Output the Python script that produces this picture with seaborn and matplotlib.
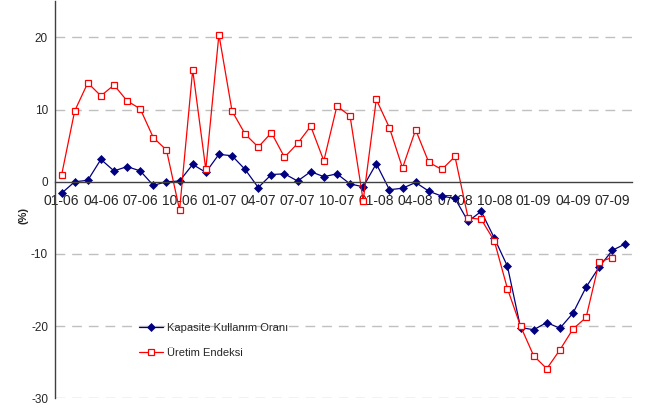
import numpy as np
import pandas as pd
import matplotlib
matplotlib.use('Agg')
import matplotlib.pyplot as plt
import seaborn as sns

# monthly series, Jan 2006 onwards (yoy change, %)
kapasite = [-1.6, 0.0, 0.2, 3.1, 1.5, 2.1, 1.5, -0.5, 0.0, 0.1, 2.4, 1.3, 3.8, 3.6, 1.7,
            -0.8, 1.0, 1.1, 0.1, 1.4, 0.7, 1.1, -0.3, -0.7, 2.5, -1.1, -0.9, -0.1, -1.3, -2.0,
            -2.3, -5.5, -4.1, -7.8, -11.7, -20.2, -20.5, -19.5, -20.3, -18.2, -14.6, -11.8, -9.5, -8.6]
uretim = [0.9, 9.8, 13.7, 11.9, 13.4, 11.2, 10.1, 6.1, 4.4, -3.9, 15.5, 1.7, 20.4, 9.8, 6.6,
          4.8, 6.8, 3.4, 5.3, 7.7, 2.9, 10.5, 9.1, -2.6, 11.4, 7.5, 1.9, 7.2, 2.7, 1.7,
          3.5, -5.0, -5.2, -8.2, -14.8, -20.0, -24.1, -25.9, -23.3, -20.4, -18.8, -11.1, -10.5]
tick_labels = ["01-06", "04-06", "07-06", "10-06", "01-07", "04-07", "07-07", "10-07",
               "01-08", "04-08", "07-08", "10-08", "01-09", "04-09", "07-09"]
y_ticks = [-30, -20, -10, 0, 10, 20]

df_k = pd.DataFrame({'t': np.arange(len(kapasite)), 'val': kapasite})
df_u = pd.DataFrame({'t': np.arange(len(uretim)), 'val': uretim})

sns.set_style('white')
plt.rcParams['font.family'] = ['Liberation Sans', 'DejaVu Sans']

fig = plt.figure(figsize=(6.49, 4.08), dpi=100)
ax = fig.add_axes([55/649, 9.7/408, 577/649, 397/408])

sns.lineplot(data=df_k, x='t', y='val', ax=ax, color='#000080', linewidth=0.9,
             marker='D', markersize=4.5, markerfacecolor='#000080',
             markeredgecolor='#000080', markeredgewidth=0.5, label='Kapasite Kullanım Oranı')
sns.lineplot(data=df_u, x='t', y='val', ax=ax, color='#ff0000', linewidth=0.9,
             marker='s', markersize=5, markerfacecolor='white',
             markeredgecolor='#ff0000', markeredgewidth=0.9, label='Üretim Endeksi')

ax.set_xlim(-0.5, len(kapasite) - 0.5)
ax.set_ylim(-30, 25)
ax.set_yticks(y_ticks)
ax.set_yticklabels([str(v) for v in y_ticks], fontsize=8.5)

for v in y_ticks:
    if v != 0:
        ax.axhline(v, color='#c0c0c0', linewidth=1, dashes=(7, 5), zorder=0)

ax.set_xticks(np.arange(0, len(kapasite), 3))
ax.set_xticklabels(tick_labels, fontsize=7.5)
ax.set_xticks(np.arange(2.5, len(kapasite), 3), minor=True)
ax.tick_params(axis='x', which='major', length=0, pad=9)
ax.tick_params(axis='x', which='minor', length=4, width=0.8, color='#333333', direction='out')
ax.tick_params(axis='y', length=3, width=0.8, color='#333333', direction='out', pad=2)

ax.spines['top'].set_visible(False)
ax.spines['right'].set_visible(False)
ax.spines['bottom'].set_position(('data', 0))
ax.spines['bottom'].set_color('#404040')
ax.spines['left'].set_color('#404040')
ax.spines['bottom'].set_linewidth(1)
ax.spines['left'].set_linewidth(1)

ax.set_xlabel('')
ax.set_ylabel('(%)', fontsize=8, fontweight='bold', labelpad=4)
ax.yaxis.set_label_coords(-0.046, 0.46)

ax.legend(loc='upper left', bbox_to_anchor=(0.128, 0.214), frameon=False, fontsize=8,
          handlelength=2.2, handletextpad=0.3, labelspacing=1.35)

fig.savefig('out.png', dpi=100)
